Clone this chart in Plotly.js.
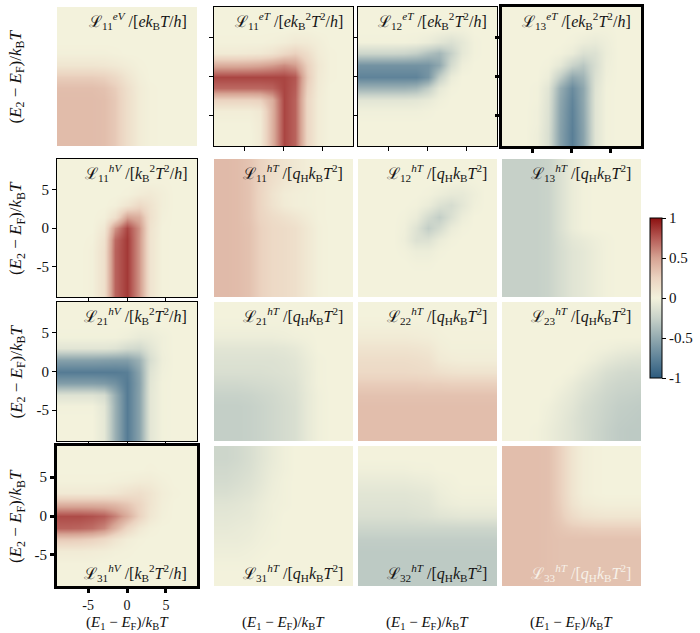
<!DOCTYPE html>
<html>
<head>
<meta charset="utf-8">
<script src="https://cdn.plot.ly/plotly-3.0.1.min.js"></script>
<style>html,body{margin:0;padding:0;background:#fff;}#chart{width:700px;height:633px;}</style>
</head>
<body>
<div id="chart"></div>
<script>
// energy grid (E1 along x, E2 along y), in units of kB T
const E = [-9,-7.5,-6,-4.5,-3,-1.5,0,1.5,3,4.5,6,7.5,9];

// each panel: rows listed from top (E2 = 9) to bottom (E2 = -9)
const L11eV = [
[0,0,0,0,0,0,0,0,0,0,0,0,0],
[0,0,0,0,0,0,0,0,0,0,0,0,0],
[0,0,0,0,0,0,0,0,0,0,0,0,0],
[0,0,0,0,0,0,0,0,0,0,0,0,0],
[0.02,0.02,0.02,0.02,0.02,0.01,0,0,0,0,0,0,0],
[0.1,0.1,0.1,0.1,0.09,0.07,0.04,0.01,0,0,0,0,0],
[0.28,0.28,0.28,0.28,0.26,0.2,0.1,0.03,0,0,0,0,0],
[0.36,0.36,0.36,0.36,0.34,0.28,0.15,0.05,0.01,0,0,0,0],
[0.37,0.37,0.37,0.37,0.36,0.3,0.16,0.05,0.01,0,0,0,0],
[0.37,0.37,0.37,0.37,0.36,0.3,0.16,0.05,0.01,0,0,0,0],
[0.37,0.37,0.37,0.37,0.36,0.3,0.16,0.05,0.01,0,0,0,0],
[0.37,0.37,0.37,0.37,0.36,0.3,0.16,0.05,0.01,0,0,0,0],
[0.37,0.37,0.37,0.37,0.36,0.3,0.16,0.05,0.01,0,0,0,0]];
const L11eT = [
[0,0,0,0,0,0,0,0,0,0,0,0,0],
[0,0,0,0,0,0,0,0,0,0,0,0,0],
[0,0,0,0,0,0,0,0.01,0.01,0,0,0,0],
[0.01,0.01,0.01,0.01,0.01,0.02,0.04,0.07,0.06,0.03,0,0,0],
[0.06,0.06,0.06,0.07,0.08,0.12,0.2,0.26,0.16,0.05,0.01,0,0],
[0.45,0.45,0.45,0.46,0.48,0.52,0.58,0.52,0.26,0.08,0.01,0,0],
[0.82,0.82,0.82,0.82,0.82,0.82,0.82,0.76,0.3,0.07,0.01,0,0],
[0.7,0.7,0.7,0.7,0.7,0.72,0.82,0.74,0.26,0.06,0,0,0],
[0.24,0.24,0.24,0.24,0.26,0.44,0.82,0.72,0.22,0.05,0,0,0],
[0.04,0.04,0.04,0.04,0.08,0.42,0.82,0.72,0.22,0.05,0,0,0],
[0.01,0.01,0.01,0.01,0.06,0.42,0.82,0.72,0.22,0.05,0,0,0],
[0,0,0,0,0.06,0.42,0.82,0.72,0.22,0.05,0,0,0],
[0,0,0,0,0.06,0.42,0.82,0.72,0.22,0.05,0,0,0]];
const L12eT = [
[0,0,0,0,0,0,0,0,0,0,0,0,0],
[0,0,0,0,0,0,0,0,0,0,0,0,0],
[0,0,0,0,0,0,0,-0.01,-0.02,-0.02,0,0,0],
[-0.01,-0.01,-0.01,-0.01,-0.01,-0.02,-0.05,-0.1,-0.14,-0.08,-0.01,0,0],
[-0.22,-0.22,-0.22,-0.22,-0.23,-0.27,-0.36,-0.42,-0.26,-0.08,-0.01,0,0],
[-0.65,-0.65,-0.65,-0.65,-0.65,-0.65,-0.64,-0.52,-0.18,-0.03,0,0,0],
[-0.75,-0.75,-0.75,-0.75,-0.75,-0.75,-0.64,-0.28,-0.05,0,0,0,0],
[-0.45,-0.45,-0.45,-0.45,-0.45,-0.42,-0.28,-0.08,-0.01,0,0,0,0],
[-0.1,-0.1,-0.1,-0.1,-0.1,-0.09,-0.06,-0.02,0,0,0,0,0],
[-0.02,-0.02,-0.02,-0.02,-0.02,-0.02,-0.01,0,0,0,0,0,0],
[0,0,0,0,0,0,0,0,0,0,0,0,0],
[0,0,0,0,0,0,0,0,0,0,0,0,0],
[0,0,0,0,0,0,0,0,0,0,0,0,0]];
const L13eT = [
[0,0,0,0,0,0,0,0,0,0,0,0,0],
[0,0,0,0,0,0,0,0,0,0,0,0,0],
[0,0,0,0,0,0,0,0,-0.01,-0.01,0,0,0],
[0,0,0,0,0,0,-0.01,-0.04,-0.06,-0.03,0,0,0],
[0,0,0,0,0,-0.01,-0.05,-0.14,-0.13,-0.04,0,0,0],
[0,0,0,0,-0.01,-0.08,-0.24,-0.32,-0.16,-0.03,0,0,0],
[0,0,0,0,-0.04,-0.28,-0.52,-0.44,-0.14,-0.02,0,0,0],
[0,0,0,-0.01,-0.1,-0.48,-0.7,-0.52,-0.12,-0.01,0,0,0],
[0,0,0,-0.01,-0.12,-0.52,-0.74,-0.52,-0.11,-0.01,0,0,0],
[0,0,0,-0.02,-0.13,-0.54,-0.76,-0.53,-0.11,-0.01,0,0,0],
[0,0,0,-0.02,-0.14,-0.55,-0.77,-0.54,-0.11,-0.01,0,0,0],
[0,0,0,-0.03,-0.15,-0.56,-0.78,-0.55,-0.11,-0.01,0,0,0],
[0,0,0,-0.03,-0.15,-0.56,-0.78,-0.55,-0.11,-0.01,0,0,0]];
const L11hV = [
[0,0,0,0,0,0,0,0,0,0,0,0,0],
[0,0,0,0,0,0,0,0,0,0,0,0,0],
[0,0,0,0,0,0,0,0,0.01,0.01,0,0,0],
[0,0,0,0,0,0,0.01,0.05,0.07,0.03,0,0,0],
[0,0,0,0,0,0.02,0.1,0.2,0.12,0.03,0,0,0],
[0,0,0,0,0.02,0.15,0.5,0.44,0.14,0.02,0,0,0],
[0,0,0,0,0.08,0.55,0.82,0.56,0.12,0.01,0,0,0],
[0,0,0,0.01,0.13,0.7,0.86,0.55,0.11,0.01,0,0,0],
[0,0,0,0.02,0.15,0.72,0.86,0.55,0.11,0.01,0,0,0],
[0,0,0,0.02,0.15,0.72,0.86,0.55,0.11,0.01,0,0,0],
[0,0,0,0.02,0.15,0.72,0.86,0.55,0.11,0.01,0,0,0],
[0,0,0,0.02,0.15,0.72,0.86,0.55,0.11,0.01,0,0,0],
[0,0,0,0.02,0.15,0.72,0.86,0.55,0.11,0.01,0,0,0]];
const L11hT = [
[0.38,0.38,0.37,0.33,0.25,0.17,0.12,0.08,0.04,0.01,0,0,0],
[0.38,0.38,0.37,0.33,0.25,0.17,0.12,0.08,0.04,0.01,0,0,0],
[0.38,0.38,0.37,0.33,0.24,0.15,0.09,0.06,0.03,0.01,0,0,0],
[0.38,0.38,0.37,0.33,0.23,0.12,0.05,0.03,0.02,0.01,0,0,0],
[0.38,0.38,0.37,0.33,0.23,0.13,0.06,0.03,0.02,0.01,0,0,0],
[0.38,0.38,0.37,0.33,0.24,0.18,0.14,0.1,0.05,0.01,0,0,0],
[0.38,0.38,0.37,0.34,0.26,0.2,0.18,0.15,0.08,0.02,0,0,0],
[0.38,0.38,0.37,0.34,0.26,0.2,0.18,0.15,0.08,0.02,0,0,0],
[0.38,0.38,0.37,0.34,0.26,0.2,0.18,0.15,0.08,0.02,0,0,0],
[0.38,0.38,0.37,0.34,0.26,0.2,0.18,0.15,0.08,0.02,0,0,0],
[0.38,0.38,0.37,0.34,0.26,0.2,0.18,0.15,0.08,0.02,0,0,0],
[0.38,0.38,0.37,0.34,0.26,0.2,0.18,0.15,0.08,0.02,0,0,0],
[0.38,0.38,0.37,0.34,0.26,0.2,0.18,0.15,0.08,0.02,0,0,0]];
const L12hT = [
[0,0,0,0,0,0,0,0,0,0,0,0,0],
[0,0,0,0,0,0,0,0,0,0,0,0,0],
[0,0,0,0,0,0,0,0,-0.01,-0.02,-0.01,0,0],
[0,0,0,0,0,0,-0.01,-0.04,-0.07,-0.07,-0.03,0,0],
[0,0,0,0,0,-0.01,-0.05,-0.13,-0.17,-0.09,-0.02,0,0],
[0,0,0,0,-0.01,-0.05,-0.18,-0.28,-0.14,-0.04,0,0,0],
[0,0,0,0,-0.02,-0.12,-0.28,-0.18,-0.05,-0.01,0,0,0],
[0,0,0,0,-0.03,-0.13,-0.13,-0.05,-0.01,0,0,0,0],
[0,0,0,0,-0.01,-0.04,-0.04,-0.01,0,0,0,0,0],
[0,0,0,0,0,-0.01,-0.01,0,0,0,0,0,0],
[0,0,0,0,0,0,0,0,0,0,0,0,0],
[0,0,0,0,0,0,0,0,0,0,0,0,0],
[0,0,0,0,0,0,0,0,0,0,0,0,0]];
const L13hT = [
[-0.26,-0.26,-0.26,-0.26,-0.24,-0.14,-0.05,-0.01,0,0,0,0,0],
[-0.26,-0.26,-0.26,-0.26,-0.24,-0.14,-0.05,-0.01,0,0,0,0,0],
[-0.26,-0.26,-0.26,-0.26,-0.24,-0.14,-0.05,-0.01,0,0,0,0,0],
[-0.26,-0.26,-0.26,-0.26,-0.24,-0.14,-0.05,-0.01,0,0,0,0,0],
[-0.26,-0.26,-0.26,-0.26,-0.24,-0.14,-0.05,-0.01,0,0,0,0,0],
[-0.26,-0.26,-0.26,-0.26,-0.24,-0.14,-0.05,-0.01,0,0,0,0,0],
[-0.26,-0.26,-0.26,-0.26,-0.24,-0.14,-0.05,-0.01,0,0,0,0,0],
[-0.26,-0.26,-0.26,-0.26,-0.24,-0.16,-0.09,-0.06,-0.03,-0.01,0,0,0],
[-0.26,-0.26,-0.26,-0.26,-0.24,-0.17,-0.11,-0.08,-0.04,-0.01,0,0,0],
[-0.26,-0.26,-0.26,-0.26,-0.24,-0.17,-0.11,-0.08,-0.04,-0.01,0,0,0],
[-0.26,-0.26,-0.26,-0.26,-0.24,-0.17,-0.11,-0.08,-0.04,-0.01,0,0,0],
[-0.26,-0.26,-0.26,-0.26,-0.24,-0.17,-0.11,-0.08,-0.04,-0.01,0,0,0],
[-0.26,-0.26,-0.26,-0.26,-0.24,-0.17,-0.11,-0.08,-0.04,-0.01,0,0,0]];
const L21hV = [
[0,0,0,0,0,0,0,0,0,0,0,0,0],
[0,0,0,0,0,0,0,0,0,0,0,0,0],
[0,0,0,0,0,0,0,-0.01,-0.01,0,0,0,0],
[-0.01,-0.01,-0.01,-0.01,-0.01,-0.01,-0.03,-0.06,-0.05,-0.02,0,0,0],
[-0.1,-0.1,-0.1,-0.1,-0.1,-0.12,-0.18,-0.2,-0.1,-0.02,0,0,0],
[-0.56,-0.56,-0.56,-0.56,-0.57,-0.58,-0.58,-0.46,-0.16,-0.03,0,0,0],
[-0.8,-0.8,-0.8,-0.8,-0.8,-0.8,-0.78,-0.54,-0.12,-0.02,0,0,0],
[-0.58,-0.58,-0.58,-0.58,-0.6,-0.66,-0.8,-0.56,-0.1,-0.01,0,0,0],
[-0.12,-0.12,-0.12,-0.12,-0.17,-0.48,-0.8,-0.55,-0.09,-0.01,0,0,0],
[-0.01,-0.01,-0.01,-0.01,-0.09,-0.46,-0.8,-0.55,-0.09,-0.01,0,0,0],
[0,0,0,0,-0.08,-0.46,-0.8,-0.55,-0.09,-0.01,0,0,0],
[0,0,0,0,-0.08,-0.46,-0.8,-0.55,-0.09,-0.01,0,0,0],
[0,0,0,0,-0.08,-0.46,-0.8,-0.55,-0.09,-0.01,0,0,0]];
const L21hT = [
[0,0,0,0,0,0,0,0,0,0,0,0,0],
[0,0,0,0,0,0,0,0,0,0,0,0,0],
[-0.01,-0.01,-0.01,-0.01,-0.01,-0.01,-0.01,0,0,0,0,0,0],
[-0.04,-0.04,-0.04,-0.04,-0.04,-0.04,-0.03,-0.02,-0.01,0,0,0,0],
[-0.1,-0.1,-0.1,-0.1,-0.1,-0.1,-0.09,-0.07,-0.03,0,0,0,0],
[-0.13,-0.13,-0.13,-0.13,-0.13,-0.13,-0.12,-0.1,-0.05,-0.01,0,0,0],
[-0.15,-0.15,-0.15,-0.15,-0.15,-0.14,-0.13,-0.11,-0.06,-0.01,0,0,0],
[-0.2,-0.2,-0.2,-0.19,-0.18,-0.17,-0.15,-0.13,-0.06,-0.01,0,0,0],
[-0.25,-0.25,-0.25,-0.24,-0.22,-0.2,-0.17,-0.14,-0.07,-0.02,0,0,0],
[-0.27,-0.27,-0.27,-0.26,-0.24,-0.21,-0.18,-0.15,-0.07,-0.02,0,0,0],
[-0.27,-0.27,-0.27,-0.26,-0.24,-0.21,-0.18,-0.15,-0.07,-0.02,0,0,0],
[-0.27,-0.27,-0.27,-0.26,-0.24,-0.21,-0.18,-0.15,-0.07,-0.02,0,0,0],
[-0.27,-0.27,-0.27,-0.26,-0.24,-0.21,-0.18,-0.15,-0.07,-0.02,0,0,0]];
const L22hT = [
[0,0,0,0,0,0,0,0,0,0,0,0,0],
[0,0,0,0,0,0,0,0,0,0,0,0,0],
[0.02,0.02,0.02,0.02,0.02,0.02,0.01,0.01,0,0,0,0,0],
[0.06,0.06,0.06,0.06,0.06,0.05,0.04,0.02,0.01,0.01,0.01,0.01,0.01],
[0.12,0.12,0.12,0.12,0.12,0.11,0.09,0.04,0.02,0.02,0.02,0.02,0.02],
[0.17,0.17,0.17,0.17,0.17,0.16,0.14,0.07,0.05,0.04,0.04,0.04,0.04],
[0.2,0.2,0.2,0.2,0.2,0.19,0.18,0.15,0.13,0.12,0.12,0.12,0.12],
[0.28,0.28,0.28,0.28,0.28,0.28,0.27,0.27,0.26,0.26,0.26,0.26,0.26],
[0.34,0.34,0.34,0.34,0.34,0.34,0.34,0.34,0.34,0.34,0.34,0.34,0.34],
[0.36,0.36,0.36,0.36,0.36,0.36,0.36,0.36,0.36,0.36,0.36,0.36,0.36],
[0.36,0.36,0.36,0.36,0.36,0.36,0.36,0.36,0.36,0.36,0.36,0.36,0.36],
[0.36,0.36,0.36,0.36,0.36,0.36,0.36,0.36,0.36,0.36,0.36,0.36,0.36],
[0.36,0.36,0.36,0.36,0.36,0.36,0.36,0.36,0.36,0.36,0.36,0.36,0.36]];
const L23hT = [
[0,0,0,0,0,0,0,0,0,0,0,0,0],
[0,0,0,0,0,0,0,0,0,0,0,0,0],
[0,0,0,0,0,0,0,0,0,0,0,0,0],
[0,0,0,0,0,0,0,0,0,0,0,0,0],
[0,0,0,0,0,0,0,0,-0.01,-0.02,-0.04,-0.05,-0.06],
[0,0,0,0,0,0,0,-0.01,-0.04,-0.08,-0.11,-0.13,-0.14],
[0,0,0,0,0,0,-0.01,-0.05,-0.1,-0.15,-0.18,-0.2,-0.2],
[0,0,0,0,0,-0.01,-0.05,-0.1,-0.14,-0.19,-0.22,-0.23,-0.24],
[0,0,0,0,0,-0.04,-0.08,-0.13,-0.18,-0.22,-0.25,-0.26,-0.27],
[0,0,0,0,-0.02,-0.06,-0.1,-0.16,-0.2,-0.24,-0.27,-0.28,-0.29],
[0,0,0,0,-0.03,-0.07,-0.12,-0.17,-0.21,-0.25,-0.28,-0.29,-0.3],
[0,0,0,-0.01,-0.04,-0.08,-0.12,-0.17,-0.22,-0.26,-0.29,-0.3,-0.3],
[0,0,0,-0.01,-0.04,-0.08,-0.12,-0.17,-0.22,-0.26,-0.29,-0.3,-0.3]];
const L31hV = [
[0,0,0,0,0,0,0,0,0,0,0,0,0],
[0,0,0,0,0,0,0,0,0,0,0,0,0],
[0,0,0,0,0,0,0,0,0.01,0,0,0,0],
[0.01,0.01,0.01,0.01,0.01,0.02,0.03,0.05,0.05,0.02,0,0,0],
[0.07,0.07,0.07,0.07,0.08,0.1,0.14,0.16,0.11,0.04,0.01,0,0],
[0.42,0.42,0.42,0.42,0.41,0.38,0.32,0.23,0.11,0.03,0,0,0],
[0.8,0.8,0.8,0.78,0.74,0.62,0.45,0.25,0.09,0.02,0,0,0],
[0.72,0.72,0.71,0.68,0.6,0.42,0.22,0.08,0.02,0,0,0,0],
[0.3,0.3,0.29,0.26,0.2,0.11,0.04,0.01,0,0,0,0,0],
[0.06,0.06,0.06,0.05,0.04,0.02,0.01,0,0,0,0,0,0],
[0.01,0.01,0.01,0.01,0,0,0,0,0,0,0,0,0],
[0,0,0,0,0,0,0,0,0,0,0,0,0],
[0,0,0,0,0,0,0,0,0,0,0,0,0]];
const L31hT = [
[-0.22,-0.22,-0.2,-0.16,-0.11,-0.06,-0.02,0,0,0,0,0,0],
[-0.22,-0.22,-0.2,-0.16,-0.11,-0.06,-0.02,0,0,0,0,0,0],
[-0.2,-0.2,-0.18,-0.15,-0.1,-0.05,-0.02,0,0,0,0,0,0],
[-0.18,-0.18,-0.16,-0.13,-0.09,-0.04,-0.01,0,0,0,0,0,0],
[-0.15,-0.15,-0.13,-0.11,-0.07,-0.03,-0.01,0,0,0,0,0,0],
[-0.11,-0.11,-0.1,-0.08,-0.05,-0.02,-0.01,0,0,0,0,0,0],
[-0.09,-0.09,-0.08,-0.07,-0.04,-0.02,0,0,0,0,0,0,0],
[-0.07,-0.07,-0.06,-0.05,-0.03,-0.01,0,0,0,0,0,0,0],
[-0.05,-0.05,-0.05,-0.04,-0.02,-0.01,0,0,0,0,0,0,0],
[-0.03,-0.03,-0.03,-0.02,-0.01,0,0,0,0,0,0,0,0],
[-0.01,-0.01,-0.01,-0.01,0,0,0,0,0,0,0,0,0],
[0,0,0,0,0,0,0,0,0,0,0,0,0],
[0,0,0,0,0,0,0,0,0,0,0,0,0]];
const L32hT = [
[0,0,0,0,0,0,0,0,0,0,0,0,0],
[0,0,0,0,0,0,0,0,0,0,0,0,0],
[-0.02,-0.02,-0.02,-0.02,-0.02,-0.01,-0.01,0,0,0,0,0,0],
[-0.06,-0.06,-0.06,-0.06,-0.06,-0.05,-0.04,-0.02,-0.01,0,0,0,0],
[-0.1,-0.1,-0.1,-0.1,-0.1,-0.09,-0.08,-0.04,-0.02,-0.01,-0.01,-0.01,-0.01],
[-0.12,-0.12,-0.12,-0.12,-0.12,-0.11,-0.1,-0.06,-0.04,-0.03,-0.03,-0.03,-0.03],
[-0.15,-0.15,-0.15,-0.15,-0.15,-0.14,-0.13,-0.11,-0.1,-0.09,-0.09,-0.09,-0.09],
[-0.22,-0.22,-0.22,-0.22,-0.22,-0.22,-0.22,-0.22,-0.22,-0.22,-0.22,-0.22,-0.22],
[-0.28,-0.28,-0.28,-0.28,-0.28,-0.28,-0.28,-0.28,-0.28,-0.28,-0.28,-0.28,-0.28],
[-0.3,-0.3,-0.3,-0.3,-0.3,-0.3,-0.3,-0.3,-0.3,-0.3,-0.3,-0.3,-0.3],
[-0.3,-0.3,-0.3,-0.3,-0.3,-0.3,-0.3,-0.3,-0.3,-0.3,-0.3,-0.3,-0.3],
[-0.3,-0.3,-0.3,-0.3,-0.3,-0.3,-0.3,-0.3,-0.3,-0.3,-0.3,-0.3,-0.3],
[-0.3,-0.3,-0.3,-0.3,-0.3,-0.3,-0.3,-0.3,-0.3,-0.3,-0.3,-0.3,-0.3]];
const L33hT = [
[0.36,0.36,0.36,0.36,0.35,0.26,0.11,0.03,0.01,0,0,0,0],
[0.36,0.36,0.36,0.36,0.35,0.26,0.11,0.03,0.01,0,0,0,0],
[0.36,0.36,0.36,0.36,0.35,0.26,0.11,0.03,0.01,0,0,0,0],
[0.36,0.36,0.36,0.36,0.35,0.26,0.11,0.03,0.01,0,0,0,0],
[0.36,0.36,0.36,0.36,0.35,0.26,0.11,0.03,0.01,0,0,0,0],
[0.36,0.36,0.36,0.36,0.35,0.27,0.13,0.06,0.04,0.03,0.03,0.03,0.03],
[0.36,0.36,0.36,0.36,0.35,0.29,0.19,0.13,0.11,0.1,0.1,0.1,0.1],
[0.36,0.36,0.36,0.36,0.35,0.32,0.29,0.28,0.27,0.27,0.27,0.27,0.27],
[0.36,0.36,0.36,0.36,0.35,0.34,0.34,0.34,0.34,0.34,0.34,0.34,0.34],
[0.36,0.36,0.36,0.36,0.35,0.34,0.34,0.34,0.34,0.34,0.34,0.34,0.34],
[0.36,0.36,0.36,0.36,0.35,0.34,0.34,0.34,0.34,0.34,0.34,0.34,0.34],
[0.36,0.36,0.36,0.36,0.35,0.34,0.34,0.34,0.34,0.34,0.34,0.34,0.34],
[0.36,0.36,0.36,0.36,0.35,0.34,0.34,0.34,0.34,0.34,0.34,0.34,0.34]];

const panels = [L11eV, L11eT, L12eT, L13eT,
                L11hV, L11hT, L12hT, L13hT,
                L21hV, L21hT, L22hT, L23hT,
                L31hV, L31hT, L32hT, L33hT];

// panel labels
const U_eV  = '[<i>ek</i><sub>B</sub><i>T</i>/<i>h</i>]';
const U_eT  = '[<i>ek</i><sub>B</sub><sup>2</sup><i>T</i><sup>2</sup>/<i>h</i>]';
const U_hV  = '[<i>k</i><sub>B</sub><sup>2</sup><i>T</i><sup>2</sup>/<i>h</i>]';
const U_hT  = '[<i>q</i><sub>H</sub><i>k</i><sub>B</sub><i>T</i><sup>2</sup>]';
const labelIdx = ['11','11','12','13','11','11','12','13','21','21','22','23','31','31','32','33'];
const labelSup = ['eV','eT','eT','eT','hV','hT','hT','hT','hV','hT','hT','hT','hV','hT','hT','hT'];
const labelUnit = [U_eV,U_eT,U_eT,U_eT,U_hV,U_hT,U_hT,U_hT,U_hV,U_hT,U_hT,U_hT,U_hV,U_hT,U_hT,U_hT];

const tickVals = [-5, 0, 5];
const tickText = ['-5', '0', '5'];
const cbVals = [-1, -0.5, 0, 0.5, 1];
const cbText = ['-1', '-0.5', '0', '0.5', '1'];
const xTitle = '(<i>E</i><sub>1</sub> − <i>E</i><sub>F</sub>)/<i>k</i><sub>B</sub><i>T</i>';
const yTitle = '(<i>E</i><sub>2</sub> − <i>E</i><sub>F</sub>)/<i>k</i><sub>B</sub><i>T</i>';

// ---------- layout geometry (pixels) ----------
const W = 700, H = 633;
const colsPx = [[57,197],[214,353],[358,497],[502,641]];
const rowsPx = [[7,146],[159,297],[302,441],[446,586]];
// border width, x ticks (0 none,1 marks,2 labels), y ticks
const styles = [
  [0,0,0],[1,1,1],[1,1,1],[3,1,1],
  [1,1,2],[0,0,0],[0,0,0],[0,0,0],
  [1,1,2],[0,0,0],[0,0,0],[0,0,0],
  [3,2,2],[0,0,0],[0,0,0],[0,0,0]];

const FONT = 'Liberation Serif, DejaVu Serif, serif';
const yAsc = E.slice();

const data = [];
const layout = {
  width: W, height: H,
  margin: {l:0, r:0, t:0, b:0},
  paper_bgcolor: '#fff', plot_bgcolor: '#fff',
  showlegend: false,
  font: {family: FONT, size: 14, color: '#111'},
  coloraxis: {
    cmin: -1, cmax: 1,
    colorscale: [[0,'#2d5b7e'],[0.125,'#5f8399'],[0.25,'#93aab0'],[0.375,'#c8d2c9'],
                 [0.5,'#f3f2dc'],[0.625,'#ebd3c0'],[0.75,'#d6a393'],[0.875,'#b55a55'],[1,'#8c1010']],
    colorbar: {
      x: 650/W, xanchor: 'left', xpad: 0, ypad: 0,
      y: 1 - 298/H, yanchor: 'middle',
      len: 160, lenmode: 'pixels', thickness: 12, thicknessmode: 'pixels',
      outlinewidth: 1, outlinecolor: '#000',
      ticks: 'outside', ticklen: 4, tickcolor: '#000',
      tickvals: cbVals, ticktext: cbText,
      tickfont: {family: FONT, size: 15, color: '#111'}
    }
  },
  annotations: []
};

for (let p = 0; p < 16; p++) {
  const r = Math.floor(p / 4), c = p % 4;
  const n = p + 1;
  const xs = n === 1 ? '' : String(n);
  const [b, xt, yt] = styles[p];
  const zRows = panels[p].slice().reverse();
  data.push({
    type: 'heatmap', x: E, y: yAsc, z: zRows,
    coloraxis: 'coloraxis', zsmooth: 'best',
    xaxis: 'x' + xs, yaxis: 'y' + xs, hoverinfo: 'skip'
  });
  const common = {
    range: [-9, 9], showgrid: false, zeroline: false, fixedrange: true,
    showline: b > 0, mirror: b > 0, linewidth: b || 1, linecolor: '#000',
    tickvals: tickVals, ticktext: tickText, tickcolor: '#000',
    ticklen: 4, tickwidth: b === 3 ? 3 : 1,
    tickfont: {family: FONT, size: 15, color: '#111'}
  };
  layout['xaxis' + xs] = Object.assign({}, common, {
    domain: [colsPx[c][0]/W, colsPx[c][1]/W], anchor: 'y' + xs,
    ticks: xt > 0 ? 'outside' : '', showticklabels: xt === 2,
    ticklabelstandoff: 0, tickfont: {family: FONT, size: 14, color: '#111'}
  });
  layout['yaxis' + xs] = Object.assign({}, common, {
    domain: [1 - rowsPx[r][1]/H, 1 - rowsPx[r][0]/H], anchor: 'x' + xs,
    ticks: yt > 0 ? 'outside' : '', showticklabels: yt === 2
  });
  // panel label
  const txt = 'ℒ<sub>' + labelIdx[p] + '</sub><sup><i>' + labelSup[p] + '</i></sup> /' + labelUnit[p];
  const bottom = r === 3;
  layout.annotations.push({
    xref: 'paper', yref: 'paper',
    x: (colsPx[c][1] - 8)/W, xanchor: 'right',
    y: bottom ? 1 - (rowsPx[r][1] - 13)/H : 1 - (rowsPx[r][0] + 14)/H, yanchor: 'middle',
    text: txt, showarrow: false,
    font: {family: FONT, size: 16, color: p === 15 ? '#f7f1e8' : '#151515'}
  });
}

// axis titles
for (let r = 0; r < 4; r++) {
  layout.annotations.push({
    xref: 'paper', yref: 'paper', x: 17/W, y: 1 - (rowsPx[r][0] + rowsPx[r][1])/2/H,
    xanchor: 'center', yanchor: 'middle', textangle: -90, showarrow: false,
    text: yTitle, font: {family: FONT, size: 17, color: '#111'}
  });
}
for (let c = 0; c < 4; c++) {
  layout.annotations.push({
    xref: 'paper', yref: 'paper', x: (colsPx[c][0] + colsPx[c][1])/2/W, y: 0,
    xanchor: 'center', yanchor: 'bottom', showarrow: false, borderpad: 0,
    text: xTitle, font: {family: FONT, size: 15, color: '#111'}
  });
}

Plotly.newPlot('chart', data, layout, {staticPlot: true, displayModeBar: false});
</script>
</body>
</html>
